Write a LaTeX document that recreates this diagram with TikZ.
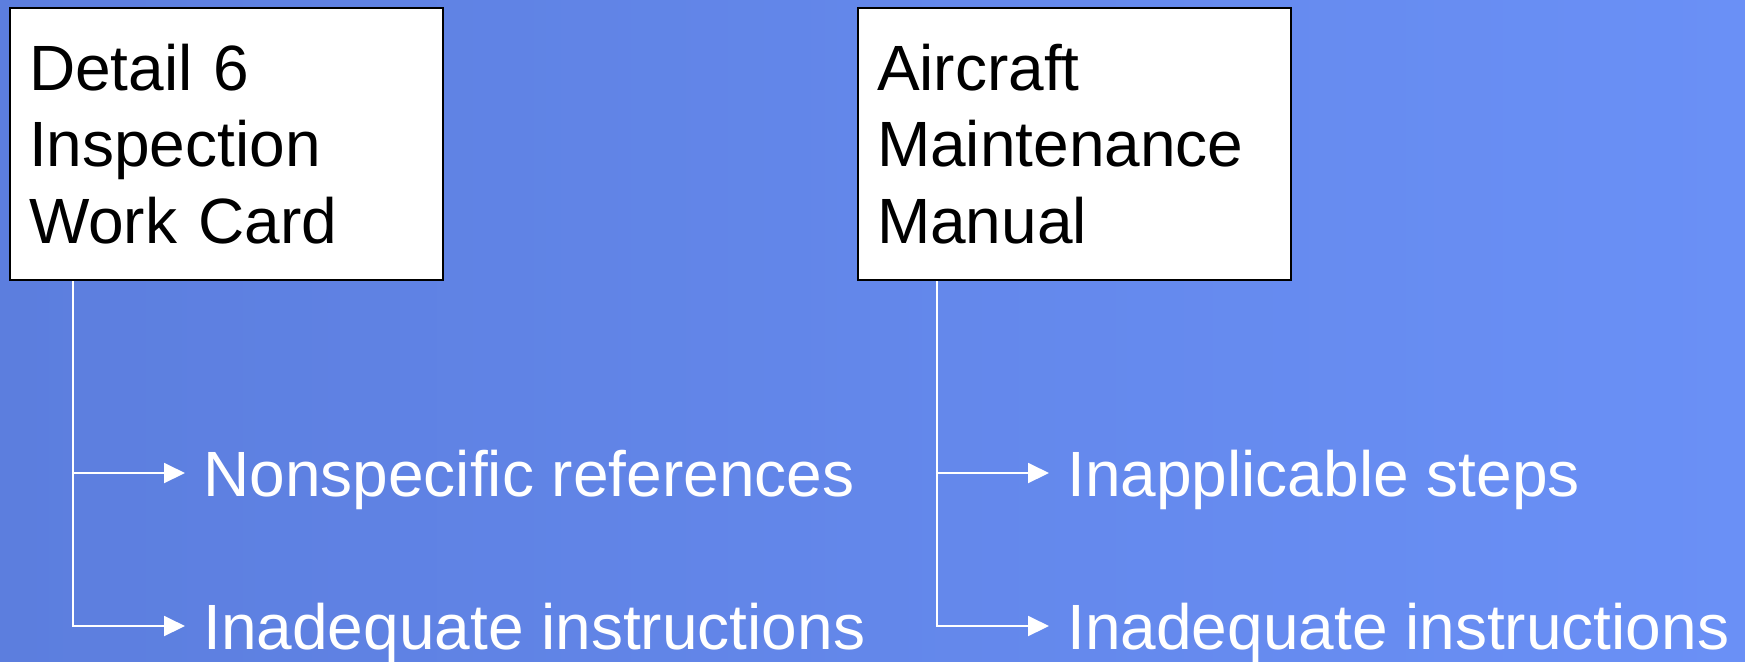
\documentclass[tikz,border=0pt]{standalone}
\usepackage{fontspec}
\setmainfont{Liberation Sans}
\usetikzlibrary{arrows.meta,positioning}
\definecolor{bgleft}{RGB}{92,126,222}
\definecolor{bgright}{RGB}{106,144,246}
\tikzset{every picture/.style={/utils/exec={\fontsize{32}{38.4}\selectfont}}}
\tikzset{docbox/.style={draw=black,line width=1pt,fill=white,anchor=north west,align=left,
    text width=197.5pt,inner xsep=9.5pt,minimum height=136pt}}
\tikzset{item/.style={text=white,inner sep=0pt,anchor=base west,text height=23pt,text depth=0pt}}
\tikzset{branch/.style={draw=white,line width=1pt,-{Triangle[length=10.5pt,width=10pt]}}}

\begin{document}
\begin{tikzpicture}[x=0.5pt,y=-0.5pt]
    \fill [left color=bgleft,right color=bgright] (0,0) rectangle (1745,661);
    \node [docbox] (card) at (9,7) {Detail 6\\Inspection\\Work Card};
    \node [docbox] (manual) at (857,7) {Aircraft\\Maintenance\\Manual};
    \node [item] (refs) at (203,496) {Nonspecific references};
    \node [item] (instrA) at (203,649) {Inadequate instructions};
    \node [item] (steps) at (1067,496) {Inapplicable steps};
    \node [item] (instrB) at (1067,649) {Inadequate instructions};
    \coordinate (cardfoot) at ([xshift=32pt]card.south west);
    \coordinate (manualfoot) at ([xshift=40pt]manual.south west);
    \draw [branch] (cardfoot) |- ([xshift=-9pt]refs.west);
    \draw [branch] (cardfoot) |- ([xshift=-9pt]instrA.west);
    \draw [branch] (manualfoot) |- ([xshift=-9pt]steps.west);
    \draw [branch] (manualfoot) |- ([xshift=-9pt]instrB.west);
\end{tikzpicture}
\end{document}
